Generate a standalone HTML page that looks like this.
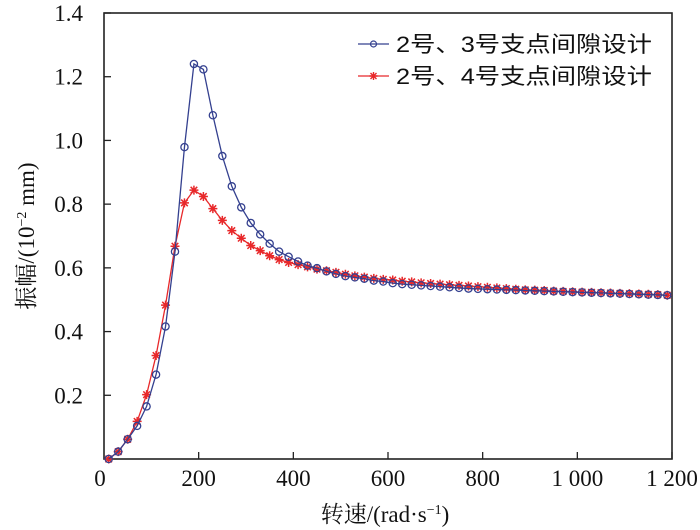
<!DOCTYPE html>
<html><head><meta charset="utf-8"><style>
body{margin:0;background:#fff}
svg{display:block}
text{font-family:"Liberation Serif","Noto Serif CJK SC",serif;fill:#111}
.cjk{font-family:"Liberation Sans","Noto Sans CJK SC",sans-serif}
.scjk{font-family:"Liberation Serif","Noto Serif CJK SC",serif}
</style></head><body>
<svg id="chart" width="700" height="530">
<g id="plot"></g>
</svg>
<script>
const speeds = [];
for (let i = 0; i < 60; i++) speeds.push(10 + 20 * i);
const series23 = [0.00,0.023,0.062,0.104,0.165,0.265,0.416,0.651,0.979,1.240,1.223,1.079,0.951,0.856,0.790,0.741,0.705,0.676,0.651,0.635,0.620,0.607,0.599,0.589,0.581,0.574,0.570,0.566,0.560,0.557,0.552,0.549,0.547,
0.545,0.543,0.541,0.539,0.537,0.535,0.534,0.533,0.532,0.531,0.530,0.529,0.528,0.527,0.526,0.525,0.524,0.523,0.522,0.521,0.520,0.519,0.518,0.517,0.516,0.515,0.514];
const series24 = [0.00,0.023,0.062,0.118,0.202,0.325,0.483,0.668,0.804,0.844,0.824,0.786,0.749,0.717,0.693,0.670,0.654,0.638,0.626,0.617,0.610,0.603,0.596,0.591,0.586,0.580,0.575,0.571,0.567,0.564,0.562,0.558,0.556,
0.553,0.551,0.549,0.547,0.545,0.543,0.541,0.539,0.537,0.535,0.533,0.531,0.530,0.529,0.527,0.526,0.525,0.524,0.523,0.522,0.521,0.520,0.519,0.518,0.517,0.516,0.514];
const xTicks = [200,400,600,800,1000,1200];
const xTickLabels = ["200","400","600","800","1 000","1 200"];
const yTicks = [0.2,0.4,0.6,0.8,1.0,1.2,1.4];
const yTickLabels = ["0.2","0.4","0.6","0.8","1.0","1.2","1.4"];

const L=104,R=672,T=13,B=459;
const sx=v=>L+(v-0)/1200*(R-L);
const sy=v=>B-(v-0)/1.4*(B-T);
const NS="http://www.w3.org/2000/svg";
const g=document.getElementById('plot');
function mk(tag,attrs,parent){const e=document.createElementNS(NS,tag);for(const k in attrs)e.setAttribute(k,attrs[k]);(parent||g).appendChild(e);return e;}

const frame=mk('rect',{x:L,y:T,width:R-L,height:B-T,fill:'none',stroke:'#222','stroke-width':1.6});



xTicks.forEach((v,i)=>{
  const t=mk('line',{x1:sx(v),x2:sx(v),y1:B,y2:B-7,stroke:'#222','stroke-width':1.3});
  
  
  const l=mk('text',{x:sx(v),y:B+27,'text-anchor':'middle','font-size':23});
  l.textContent=xTickLabels[i];
  
  
});
const x0=mk('text',{x:L-4,y:B+27,'text-anchor':'middle','font-size':23});x0.textContent='0';


yTicks.forEach((v,i)=>{
  const t=mk('line',{x1:L,x2:L+7,y1:sy(v),y2:sy(v),stroke:'#222','stroke-width':1.3});
  
  
  const l=mk('text',{x:L-21,y:sy(v)+8,'text-anchor':'end','font-size':23});
  l.textContent=yTickLabels[i];
  
  
});

function drawSeries(vals,color,kind,name){
  const pts=speeds.map((s,i)=>sx(s)+','+sy(vals[i])).join(' ');
  const pl=mk('polyline',{points:pts,fill:'none',stroke:color,'stroke-width':1.3});
  
  
  speeds.forEach((s,i)=>{
    const x=sx(s),y=sy(vals[i]);
    let m;
    if(kind==='circle'){m=mk('circle',{cx:x,cy:y,r:3.6,fill:'none',stroke:color,'stroke-width':1.3});}
    else{m=mk('path',{d:`M${x-4.5},${y}H${x+4.5}M${x},${y-4.5}V${y+4.5}M${x-3.3},${y-3.3}L${x+3.3},${y+3.3}M${x-3.3},${y+3.3}L${x+3.3},${y-3.3}`,stroke:color,'stroke-width':1.5});}
    
    
  });
}
drawSeries(series24,'#e8282a','star','series-2-4');
drawSeries(series23,'#34408f','circle','series-2-3');

const lg=mk('g',{});


[['#34408f','circle','2号、3号支点间隙设计',44],['#e8282a','star','2号、4号支点间隙设计',76]].forEach(([c,k,txt,y])=>{
  const e=mk('g',{},lg);
  
  
  mk('line',{x1:358,x2:389,y1:y,y2:y,stroke:c,'stroke-width':1.3},e);
  if(k==='circle')mk('circle',{cx:373.5,cy:y,r:3,fill:'none',stroke:c,'stroke-width':1.2},e);
  else mk('path',{d:`M369.5,${y}H377.5M373.5,${y-4}V${y+4}M370.5,${y-3}L376.5,${y+3}M370.5,${y+3}L376.5,${y-3}`,stroke:c,'stroke-width':1.4},e);
  const t=mk('text',{x:396,y:y+8,'font-size':22,class:'cjk',textLength:256,lengthAdjust:'spacingAndGlyphs'},e);
  t.textContent=txt;
});

const xt=mk('text',{x:385,y:522,'text-anchor':'middle','font-size':23,class:'scjk'});
xt.innerHTML='转速/(rad·s<tspan dy="-8" font-size="14">−1</tspan><tspan dy="8">)</tspan>';


const yt=mk('text',{x:0,y:0,'text-anchor':'middle','font-size':23,class:'scjk',transform:'translate(34,236) rotate(-90)'});
yt.innerHTML='振幅/(10<tspan dy="-8" font-size="14">−2</tspan><tspan dy="8"> mm)</tspan>';


</script>
</body></html>
